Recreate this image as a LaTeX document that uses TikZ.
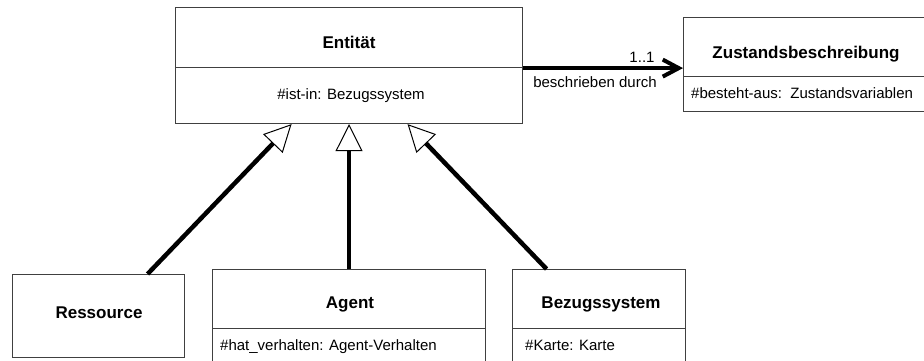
\documentclass[tikz,border=0pt]{standalone}
\usepackage{fontspec}
\setmainfont{Liberation Sans}
\usetikzlibrary{arrows.meta,calc}
\begin{document}
\begin{tikzpicture}[x=1pt,y=-1pt,
  part/.style={draw=black!75,line width=1.1pt,inner sep=0pt,anchor=north west},
  title/.style={font=\fontsize{17}{20}\selectfont\bfseries,inner sep=0pt,anchor=base},
  attr/.style={font=\fontsize{15}{18}\selectfont,inner sep=0pt,anchor=base west},
  lbl/.style={font=\fontsize{15}{18}\selectfont,inner sep=0pt,anchor=base},
  gen/.style={line width=4.5pt,-{Triangle[fill=white,length=27pt,width=27pt,line width=1pt]}},
  assoc/.style={line width=4pt,-{Straight Barb[length=16pt,width=17pt]}}]
\useasboundingbox (0,0) rectangle (924,360);

% Entitaet
\node[part,minimum width=347pt,minimum height=60pt] (ent) at (175,7) {};
\node[part,minimum width=347pt,minimum height=56pt] (entA) at (175,67) {};
\node[title] (entT) at (349,48) {Entität};
\node[lbl] (entX) at (351,99) {\#ist-in: Bezugssystem};

% Zustandsbeschreibung
\node[part,minimum width=250pt,minimum height=59pt] (zus) at (683,17) {};
\node[part,minimum width=250pt,minimum height=35pt] (zusA) at (683,76) {};
\node[title] (zusT) at (806,58) {Zustandsbeschreibung};
\node[attr] (zusX) at (691,98) {\#besteht-aus:\ \ Zustandsvariablen};

% Ressource
\node[part,minimum width=172pt,minimum height=83pt] (res) at (12,274) {};
\node[title] (resT) at (99,318) {Ressource};

% Agent
\node[part,minimum width=273pt,minimum height=59pt] (agt) at (212,269) {};
\node[part,minimum width=273pt,minimum height=40pt] (agtA) at (212,328) {};
\node[title] (agtT) at (350,308) {Agent};
\node[attr] (agtX) at (220,350) {\#hat\_verhalten: Agent-Verhalten};

% Bezugssystem
\node[part,minimum width=173pt,minimum height=59pt] (bez) at (512,269) {};
\node[part,minimum width=173pt,minimum height=40pt] (bezA) at (512,328) {};
\node[title] (bezT) at (601,308) {Bezugssystem};
\node[attr] (bezX) at (525,350) {\#Karte: Karte};

% Generalisierungen
\draw[gen] ([xshift=49pt]res.north) -- ([xshift=-57.5pt]entA.south);
\draw[gen] (agt.north) -- (entA.south);
\draw[gen] ([xshift=-52.5pt]bez.north) -- ([xshift=58.5pt]entA.south);

% Assoziation
\draw[assoc] (ent.south east) -- (ent.south east -| zus.west);
\node[lbl] (mult) at (642,62) {1..1};
\node[lbl] (role) at (595,87) {beschrieben durch};
\end{tikzpicture}
\end{document}
